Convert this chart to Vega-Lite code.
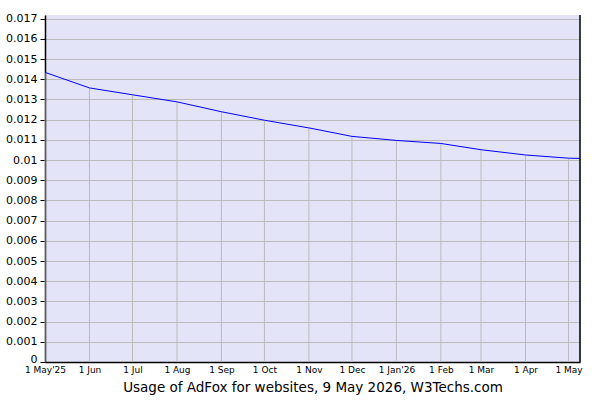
{
  "$schema": "https://vega.github.io/schema/vega-lite/v6.json",
  "width": 535,
  "height": 347,
  "autosize": {"type": "none"},
  "padding": {"left": 45, "top": 15, "right": 20, "bottom": 38},
  "background": "white",
  "view": {"fill": "#e4e4f9", "stroke": null},
  "config": {"font": "DejaVu Sans"},
  "data": {
    "values": [
      {"date": "2025-05-01", "usage": 0.01434},
      {"date": "2025-06-01", "usage": 0.01357},
      {"date": "2025-07-01", "usage": 0.01323},
      {"date": "2025-08-01", "usage": 0.01288},
      {"date": "2025-09-01", "usage": 0.01239},
      {"date": "2025-10-01", "usage": 0.01197},
      {"date": "2025-11-01", "usage": 0.01159},
      {"date": "2025-12-01", "usage": 0.01117},
      {"date": "2026-01-01", "usage": 0.01097},
      {"date": "2026-02-01", "usage": 0.01082},
      {"date": "2026-03-01", "usage": 0.01051},
      {"date": "2026-04-01", "usage": 0.01025},
      {"date": "2026-05-01", "usage": 0.01009},
      {"date": "2026-05-09", "usage": 0.01008}
    ]
  },
  "encoding": {
    "x": {
      "field": "date",
      "type": "temporal",
      "scale": {"type": "utc", "domain": ["2025-05-01", "2026-05-09"]},
      "axis": {
        "title": "Usage of AdFox for websites, 9 May 2026, W3Techs.com",
        "titleFontSize": 13.5,
        "titleFontWeight": "normal",
        "titleColor": "#000000",
        "titlePadding": 6,
        "values": ["2025-05-01", "2025-06-01", "2025-07-01", "2025-08-01", "2025-09-01", "2025-10-01", "2025-11-01", "2025-12-01", "2026-01-01", "2026-02-01", "2026-03-01", "2026-04-01", "2026-05-01"],
        "labelExpr": "(datum.index == 0 || utcmonth(datum.value) == 0) ? utcFormat(datum.value, '%-d %b\\'%y') : utcFormat(datum.value, '%-d %b')",
        "labelFontSize": 9,
        "labelColor": "#000000",
        "labelPadding": 3,
        "labelFlush": false,
        "labelOverlap": false,
        "ticks": false,
        "grid": false,
        "domainColor": "#000000",
        "domainWidth": 1.5
      }
    },
    "y": {
      "field": "usage",
      "type": "quantitative",
      "scale": {"domain": [0, 0.01718], "nice": false},
      "axis": {
        "title": null,
        "values": [0, 0.001, 0.002, 0.003, 0.004, 0.005, 0.006, 0.007, 0.008, 0.009, 0.01, 0.011, 0.012, 0.013, 0.014, 0.015, 0.016, 0.017],
        "tickCount": 18,
        "format": ".3~f",
        "labelFontSize": 11,
        "labelColor": "#000000",
        "labelPadding": 3,
        "labelOffset": {"condition": {"test": "datum.value == 0", "value": -3}, "value": 0},
        "labelOverlap": false,
        "labelFlush": false,
        "tickSize": 5,
        "tickColor": "#000000",
        "domainColor": "#000000",
        "domainWidth": 1.5,
        "grid": true,
        "gridColor": "#bbbbbb",
        "gridOpacity": 1
      }
    }
  },
  "layer": [
    {
      "mark": {"type": "rule", "color": "#bbbbbb", "strokeWidth": 1},
      "encoding": {
        "y2": {"datum": 0}
      }
    },
    {
      "mark": {"type": "line", "color": "#0000ff", "strokeWidth": 1}
    },
    {
      "transform": [{"filter": "datum.usage == 0.01008"}],
      "mark": {"type": "rule", "color": "#000000", "strokeWidth": 1.5},
      "encoding": {
        "y": {"datum": 0.01718},
        "y2": {"datum": 0}
      }
    }
  ]
}
